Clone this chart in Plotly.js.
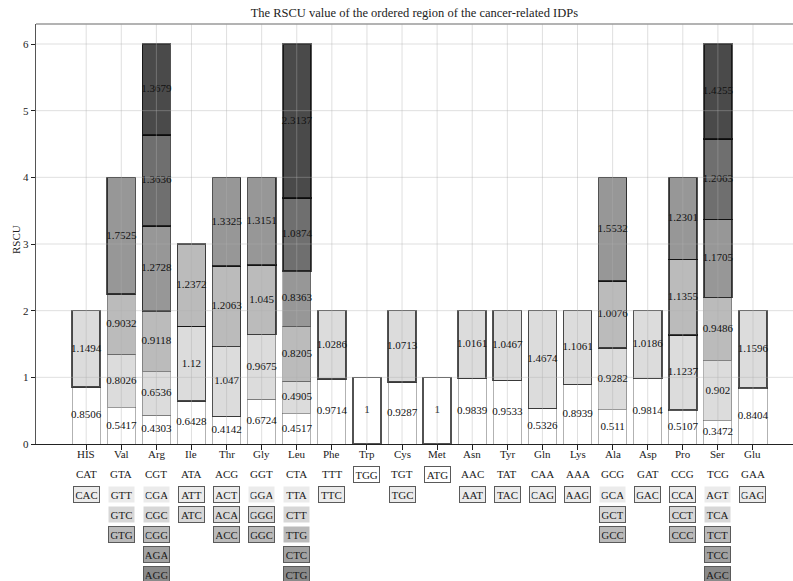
<!DOCTYPE html>
<html>
<head>
<meta charset="utf-8">
<script src="https://cdn.plot.ly/plotly-3.0.1.min.js"></script>
<style>html,body{margin:0;padding:0;background:#fff;}#chart{width:793px;height:581px;}</style>
</head>
<body>
<div id="chart"></div>
<script>
const aminoAcids = ['HIS','Val','Arg','Ile','Thr','Gly','Leu','Phe','Trp','Cys','Met','Asn','Tyr','Gln','Lys','Ala','Asp','Pro','Ser','Glu'];
const codons = [
  ['CAT','CAC'],
  ['GTA','GTT','GTC','GTG'],
  ['CGT','CGA','CGC','CGG','AGA','AGG'],
  ['ATA','ATT','ATC'],
  ['ACG','ACT','ACA','ACC'],
  ['GGT','GGA','GGG','GGC'],
  ['CTA','TTA','CTT','TTG','CTC','CTG'],
  ['TTT','TTC'],
  ['TGG'],
  ['TGT','TGC'],
  ['ATG'],
  ['AAC','AAT'],
  ['TAT','TAC'],
  ['CAA','CAG'],
  ['AAA','AAG'],
  ['GCG','GCA','GCT','GCC'],
  ['GAT','GAC'],
  ['CCG','CCA','CCT','CCC'],
  ['TCG','AGT','TCA','TCT','TCC','AGC'],
  ['GAA','GAG']
];
const rscu = [
  [0.8506,1.1494],
  [0.5417,0.8026,0.9032,1.7525],
  [0.4303,0.6536,0.9118,1.2728,1.3636,1.3679],
  [0.6428,1.12,1.2372],
  [0.4142,1.047,1.2063,1.3325],
  [0.6724,0.9675,1.045,1.3151],
  [0.4517,0.4905,0.8205,0.8363,1.0874,2.3137],
  [0.9714,1.0286],
  [1],
  [0.9287,1.0713],
  [1],
  [0.9839,1.0161],
  [0.9533,1.0467],
  [0.5326,1.4674],
  [0.8939,1.1061],
  [0.511,0.9282,1.0076,1.5532],
  [0.9814,1.0186],
  [0.5107,1.1237,1.1355,1.2301],
  [0.3472,0.902,0.9486,1.1705,1.2063,1.4255],
  [0.8404,1.1596]
];
const yTicks = [0,1,2,3,4,5,6];

const levelColors = ['#ffffff','#dcdcdc','#bbbbbb','#979797','#6f6f6f','#4a4a4a'];
const tableColors = ['#ffffff','#ebebeb','#d7d7d7','#bababa','#a2a2a2','#8a8a8a'];
const FONT = "'Liberation Serif', 'DejaVu Serif', serif";

const traces = [];
const nLevels = 6;
for (let l = 0; l < nLevels; l++) {
  const xs = [], ys = [], lc = [], lw = [];
  aminoAcids.forEach((aa, i) => {
    if (rscu[i].length > l) {
      xs.push(aa); ys.push(rscu[i][l]);
      const strong = rscu[i][l] >= 1;
      lc.push(strong ? 'rgba(0,0,0,0.68)' : 'rgba(0,0,0,0.3)');
      lw.push(strong ? 1.6 : 1);
    }
  });
  traces.push({
    type: 'bar', x: xs, y: ys, width: 0.8,
    marker: {color: levelColors[l], line: {color: lc, width: lw}},
    hoverinfo: 'skip', showlegend: false
  });
}
// value labels at segment centres
const tx = [], ty = [], tt = [];
aminoAcids.forEach((aa, i) => {
  let base = 0;
  rscu[i].forEach(v => {
    tx.push(aa); ty.push(base + v / 2); tt.push(String(v));
    base += v;
  });
});
traces.push({
  type: 'scatter', mode: 'text', x: tx, y: ty, text: tt,
  textfont: {family: FONT, size: 11, color: '#111111'},
  textposition: 'middle center', hoverinfo: 'skip', showlegend: false, cliponaxis: false
});

// plot geometry (pixels)
const W = 793, H = 581, mL = 36, mR = 0, mT = 24, mB = 137;
const plotW = W - mL - mR;
const plotH = H - mT - mB;
const axisPy = H - mB;
function paperY(py) { return (axisPy - py) / plotH; }
function paperX(px) { return (px - mL) / plotW; }

const annotations = [];
annotations.push({
  text: 'RSCU', xref: 'paper', yref: 'paper', x: paperX(16), y: paperY(240),
  xanchor: 'center', yanchor: 'middle', textangle: -90, showarrow: false,
  font: {family: FONT, size: 11, color: '#222222'}
});
aminoAcids.forEach((aa, i) => {
  annotations.push({
    text: aa, x: aa, xref: 'x', yref: 'paper', y: paperY(454),
    xanchor: 'center', yanchor: 'middle', showarrow: false,
    font: {family: FONT, size: 11, color: '#1a1a1a'}
  });
  codons[i].forEach((c, k) => {
    const v = rscu[i][k];
    const boxed = k >= 1 || v >= 1;
    const a = {
      text: c, x: aa, xref: 'x', yref: 'paper', y: paperY(474 + 20.1 * k),
      xanchor: 'center', yanchor: 'middle', showarrow: false,
      font: {family: FONT, size: 11, color: '#1a1a1a'}
    };
    if (boxed) {
      a.bgcolor = tableColors[k];
      a.bordercolor = v >= 1 ? '#5a5a5a' : 'rgba(0,0,0,0)';
      a.borderwidth = 1;
      a.borderpad = 1.5;
      a.width = 22;
      a.height = 12;
    }
    annotations.push(a);
  });
});

const shapes = [];
const gridCol = 'rgba(176,176,176,0.4)';
aminoAcids.forEach(aa => {
  shapes.push({type: 'line', xref: 'x', yref: 'paper', x0: aa, x1: aa, y0: 0, y1: 1,
    line: {color: gridCol, width: 1}, layer: 'above'});
});
yTicks.slice(1).forEach(t => {
  shapes.push({type: 'line', xref: 'paper', yref: 'y', x0: 0, x1: 1, y0: t, y1: t,
    line: {color: gridCol, width: 1}, layer: 'above'});
});
shapes.push({type: 'line', xref: 'paper', yref: 'paper', x0: 0, x1: 1, y0: 1, y1: 1,
  line: {color: '#9a9a9a', width: 1.5}, layer: 'above'});

const layout = {
  width: W, height: H,
  margin: {l: mL, r: mR, t: mT, b: mB, pad: 0},
  paper_bgcolor: '#ffffff', plot_bgcolor: '#ffffff',
  barmode: 'stack',
  font: {family: FONT, size: 11, color: '#222222'},
  title: {text: 'The RSCU value of the ordered region of the cancer-related IDPs',
    font: {family: FONT, size: 12.5, color: '#222222'}, x: 0.5225, xanchor: 'center', y: 0.978, yanchor: 'middle'},
  xaxis: {
    type: 'category', categoryorder: 'array', categoryarray: aminoAcids,
    range: [-1.43, 20.14], showgrid: false, zeroline: false,
    showline: true, linecolor: '#222222', linewidth: 1.3,
    ticks: 'outside', ticklen: 5, tickcolor: '#222222', tickwidth: 1,
    showticklabels: false, fixedrange: true
  },
  yaxis: {
    range: [0, 6.3], tickvals: yTicks, ticktext: yTicks.map(String),
    showgrid: false, zeroline: false,
    showline: true, linecolor: '#555555', linewidth: 1.3,
    ticks: 'outside', ticklen: 4, tickcolor: '#222222',
    tickfont: {family: FONT, size: 11, color: '#222222'},
    fixedrange: true, automargin: false
  },
  shapes: shapes,
  annotations: annotations
};

Plotly.newPlot('chart', traces, layout, {displayModeBar: false, staticPlot: true});
</script>
</body>
</html>
